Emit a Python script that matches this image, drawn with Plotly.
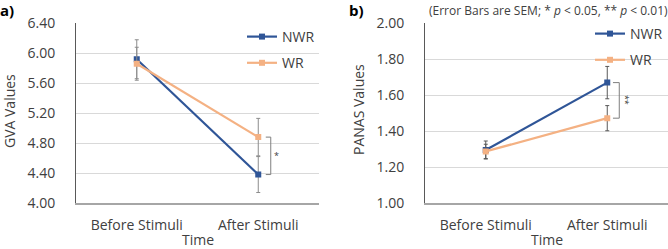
import plotly.graph_objects as go

categories = ["Before Stimuli", "After Stimuli"]

# Panel a: GVA
gva_nwr = [5.92, 4.38]
gva_nwr_sem = [0.26, 0.24]
gva_wr = [5.86, 4.88]
gva_wr_sem = [0.22, 0.25]
gva_ticks = [4.00, 4.40, 4.80, 5.20, 5.60, 6.00, 6.40]

# Panel b: PANAS
panas_nwr = [1.295, 1.67]
panas_nwr_sem = [0.05, 0.09]
panas_wr = [1.287, 1.472]
panas_wr_sem = [0.04, 0.07]
panas_ticks = [1.00, 1.20, 1.40, 1.60, 1.80, 2.00]

C_NWR = "#2F5597"
C_WR = "#F4B183"
FONT = "Open Sans"
TXT = "#404040"
FS = 14

W, H = 668, 249
def px(x):
    return x / W
def py(y):
    return 1 - y / H

fig = go.Figure()

def add_series(xa, ya, y, err, color, name, legend, errcolor):
    fig.add_trace(go.Scatter(
        x=categories, y=y, xaxis=xa, yaxis=ya, name=name, legend=legend,
        legendgroup=name + legend, mode="lines+markers",
        line=dict(color=color, width=2.2),
        marker=dict(symbol="square", size=6, color=color),
        error_y=dict(type="data", array=err, visible=True, color=errcolor,
                     thickness=1, width=2),
    ))

add_series("x", "y", gva_nwr, gva_nwr_sem, C_NWR, "NWR", "legend", "#8c8c8c")
add_series("x", "y", gva_wr, gva_wr_sem, C_WR, "WR", "legend", "#8c8c8c")
add_series("x2", "y2", panas_nwr, panas_nwr_sem, C_NWR, "NWR", "legend2", "#595959")
add_series("x2", "y2", panas_wr, panas_wr_sem, C_WR, "WR", "legend2", "#595959")

# significance brackets derived from data
def bracket(xref, yref, y1, y2, x0, x1):
    fig.add_shape(type="path", xref=xref, yref=yref,
                  path=f"M {x0},{y1} L {x1},{y1} L {x1},{y2} L {x0},{y2}",
                  line=dict(color="#7f7f7f", width=1))

bracket("x", "y", gva_wr[1], gva_nwr[1], 1.062, 1.103)
bracket("x2", "y2", panas_nwr[1], panas_wr[1], 1.047, 1.099)
fig.add_annotation(xref="x", yref="y", x=1.15, y=(gva_wr[1] + gva_nwr[1]) / 2,
                   text="*", showarrow=False, font=dict(family=FONT, size=9, color=TXT))
fig.add_annotation(xref="x2", yref="y2", x=1.15, y=(panas_wr[1] + panas_nwr[1]) / 2,
                   text="**", textangle=90, showarrow=False,
                   font=dict(family=FONT, size=9, color=TXT))

ydom = [py(203), py(23.3)]
axis_common = dict(type="category", range=[-0.5, 1.5], showgrid=False, ticks="",
                   showline=True, linecolor="#a6a6a6", linewidth=1.5, automargin=False,
                   tickfont=dict(family=FONT, size=FS, color=TXT),
                   ticklabelstandoff=8, fixedrange=True)
yaxis_common = dict(tickformat=".2f", showgrid=True, gridcolor="#d9d9d9", gridwidth=1,
                    showline=True, linecolor="#595959", linewidth=1, zeroline=False,
                    ticks="", ticklabelstandoff=17, automargin=False, fixedrange=True,
                    tickfont=dict(family=FONT, size=FS, color=TXT))
fig.update_layout(
    width=W, height=H, margin=dict(l=0, r=0, t=0, b=0, pad=0, autoexpand=False),
    paper_bgcolor="white", plot_bgcolor="white",
    font=dict(family=FONT, color=TXT),
    xaxis=dict(domain=[px(76), px(319)], anchor="y", **axis_common),
    xaxis2=dict(domain=[px(425), px(668)], anchor="y2", **axis_common),
    yaxis=dict(domain=ydom, anchor="x", range=[4.0, 6.4], tickvals=gva_ticks, **yaxis_common),
    yaxis2=dict(domain=ydom, anchor="x2", range=[1.0, 2.0], tickvals=panas_ticks, **yaxis_common),
    legend=dict(x=px(242), y=py(21), xanchor="left", yanchor="top",
                bgcolor="rgba(0,0,0,0)", itemwidth=30, tracegroupgap=5,
                font=dict(family=FONT, size=FS, color=TXT)),
    legend2=dict(x=1.0, y=py(18), xanchor="right", yanchor="top",
                 bgcolor="rgba(0,0,0,0)", itemwidth=30, tracegroupgap=5,
                 font=dict(family=FONT, size=FS, color=TXT)),
    showlegend=True,
)

annots = [
    dict(x=px(-2), y=py(10), text="<b>a)</b>", xanchor="left", size=15),
    dict(x=px(347), y=py(10), text="<b>b)</b>", xanchor="left", size=15),
    dict(x=px(427), y=py(10), text="(Error Bars are SEM; * <i>p</i> &lt; 0.05, ** <i>p</i> &lt; 0.01)",
         xanchor="left", size=12),
    dict(x=px(198), y=py(239.5), text="Time", xanchor="center", size=FS),
    dict(x=px(547), y=py(239.5), text="Time", xanchor="center", size=FS),
]
for a in annots:
    fig.add_annotation(xref="paper", yref="paper", x=a["x"], y=a["y"], text=a["text"],
                       xanchor=a["xanchor"], yanchor="middle", showarrow=False,
                       font=dict(family=FONT, size=a["size"], color="#000000" if "<b>" in a["text"] else TXT))
fig.add_annotation(xref="paper", yref="paper", x=px(9), y=py(111), text="GVA Values",
                   textangle=-90, showarrow=False, xanchor="center", yanchor="middle",
                   font=dict(family=FONT, size=FS, color=TXT))
fig.add_annotation(xref="paper", yref="paper", x=px(359), y=py(110), text="PANAS Values",
                   textangle=-90, showarrow=False, xanchor="center", yanchor="middle",
                   font=dict(family=FONT, size=FS, color=TXT))

fig.write_html("out.html", config={"displayModeBar": False},
               post_script="document.body.style.margin='0';document.body.style.overflow='hidden';")
